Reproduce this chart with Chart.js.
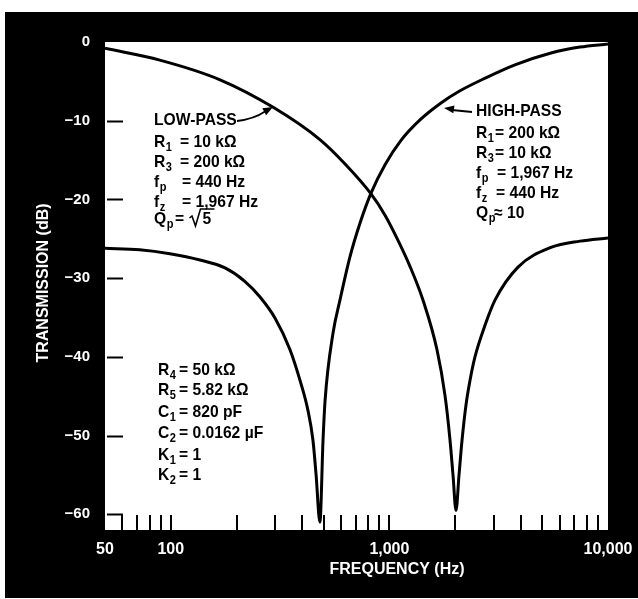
<!DOCTYPE html>
<html>
<head>
<meta charset="utf-8">
<script src="https://cdn.jsdelivr.net/npm/chart.js@4.4.1/dist/chart.umd.min.js"></script>
<style>
html,body{margin:0;padding:0;background:#fff;}
canvas{display:block;}
</style>
</head>
<body>
<canvas id="c" width="638" height="599"></canvas>
<script>
// ---------- DATA ----------
const lowPassFreq = [50, 89, 168, 294, 481, 627, 824, 955, 1095, 1242, 1425, 1651, 1796, 1894, 1954, 2017, 2082, 2149, 2241, 2337, 2463, 2737, 3041, 3876, 5486, 7446, 10000];
const lowPassDb   = [-0.8, -2.3, -4.8, -8.3, -12.4, -15.5, -19.3, -22.0, -25.2, -28.5, -32.8, -39.1, -44.9, -50.6, -55.0, -59.5, -55.0, -50.6, -46.1, -43.0, -40.0, -36.0, -32.8, -28.6, -26.1, -25.3, -24.9];

const highPassFreq = [50, 72, 99, 136, 177, 218, 256, 300, 351, 390, 424, 447, 462, 481, 497, 508, 552, 594, 660, 734, 824, 955, 1130, 1380, 1722, 2104, 2737, 3754, 5486, 7446, 10000];
const highPassDb   = [-26.2, -26.4, -26.9, -27.7, -28.7, -30.4, -32.4, -35.1, -39.1, -43.0, -46.8, -50.6, -55.0, -61.0, -50.6, -45.5, -37.0, -32.8, -27.3, -23.0, -19.2, -15.6, -12.5, -9.9, -7.75, -6.2, -4.6, -2.9, -1.4, -0.64, -0.25];

const xTickValues = [50,60,70,80,90,100,200,300,400,500,600,700,800,900,1000,2000,3000,4000,5000,6000,7000,8000,9000,10000];
const xTickLabels = {50:'50', 100:'100', 1000:'1,000', 10000:'10,000'};
const yTickValues = [0,-10,-20,-30,-40,-50,-60];
const yTickLabels = ['0','−10','−20','−30','−40','−50','−60'];

const xTitle = 'FREQUENCY (Hz)';
const yTitle = 'TRANSMISSION (dB)';

const lowPassNotes  = ['LOW-PASS', 'R_1 = 10 kΩ', 'R_3 = 200 kΩ', 'f_p = 440 Hz', 'f_z = 1,967 Hz', 'Q_p = √5'];
const highPassNotes = ['HIGH-PASS', 'R_1 = 200 kΩ', 'R_3 = 10 kΩ', 'f_p = 1,967 Hz', 'f_z = 440 Hz', 'Q_p ≈ 10'];
const componentNotes = ['R_4 = 50 kΩ', 'R_5 = 5.82 kΩ', 'C_1 = 820 pF', 'C_2 = 0.0162 µF', 'K_1 = 1', 'K_2 = 1'];

// ---------- STYLE / DRAWING ----------
const FAMILY = "'Liberation Sans','DejaVu Sans',sans-serif";
const NOTE_FONT = "bold 17px " + FAMILY;
const SUB_FONT = "bold 12px " + FAMILY;
const SX = 0.92; // horizontal condensing of note text

function toPoints(fs, ds){ return fs.map((f,i)=>({x:f, y:ds[i]})); }

function txt(ctx, s, x, y, font){
  ctx.font = font;
  ctx.save(); ctx.translate(x, y); ctx.scale(SX, 1); ctx.fillText(s, 0, 0); ctx.restore();
  return ctx.measureText(s).width * SX;
}

function drawNote(ctx, x, y, str, valX){
  const m = str.match(/^(\S)_(\S)\s+(.*)$/);
  if(!m){ txt(ctx, str, x, y, NOTE_FONT); return; }
  const w = txt(ctx, m[1], x, y, NOTE_FONT);
  txt(ctx, m[2], x + w + 0.5, y + 4, SUB_FONT);
  const v = m[3];
  const ri = v.indexOf('√');
  if(ri >= 0){
    const before = v.slice(0, ri);
    const after = v.slice(ri + 1);
    let cx = valX + txt(ctx, before, valX, y, NOTE_FONT);
    ctx.save(); ctx.strokeStyle = '#000'; ctx.lineWidth = 1.6;
    ctx.beginPath();
    ctx.moveTo(cx + 1, y - 6); ctx.lineTo(cx + 3.5, y - 8); ctx.lineTo(cx + 7, y + 2); ctx.lineTo(cx + 12, y - 15); ctx.lineTo(cx + 26, y - 15);
    ctx.stroke(); ctx.restore();
    txt(ctx, after, cx + 14, y, NOTE_FONT);
  } else {
    txt(ctx, v, valX, y, NOTE_FONT);
  }
}

function arrowHead(ctx, tx, ty, fromX, fromY, len, half){
  const ang = Math.atan2(ty - fromY, tx - fromX);
  ctx.beginPath();
  ctx.moveTo(tx, ty);
  ctx.lineTo(tx - len*Math.cos(ang) + half*Math.sin(ang), ty - len*Math.sin(ang) - half*Math.cos(ang));
  ctx.lineTo(tx - len*Math.cos(ang) - half*Math.sin(ang), ty - len*Math.sin(ang) + half*Math.cos(ang));
  ctx.closePath(); ctx.fill();
}

const framePlugin = {
  id: 'frame',
  beforeDraw(chart){
    const c = chart.ctx, a = chart.chartArea;
    c.save();
    c.fillStyle = '#fff'; c.fillRect(0, 0, chart.width, chart.height);
    c.fillStyle = '#000'; c.fillRect(5, 12, chart.width - 5, 586);
    c.fillStyle = '#fff'; c.fillRect(a.left, a.top, a.right - a.left, a.bottom - a.top);
    c.restore();
  },
  afterDraw(chart){
    const c = chart.ctx, a = chart.chartArea;
    const xs = chart.scales.x, ys = chart.scales.y;
    c.save();
    c.strokeStyle = '#000'; c.lineWidth = 2;
    yTickValues.forEach(v => {
      if(v === 0) return;
      const py = Math.round(ys.getPixelForValue(v)) + 0.5;
      c.beginPath(); c.moveTo(a.left + 2, py); c.lineTo(a.left + 18, py); c.stroke();
    });
    xTickValues.forEach(v => {
      if(v === 50 || v === 10000) return;
      const px = Math.round(xs.getPixelForValue(v));
      c.beginPath(); c.moveTo(px, a.bottom); c.lineTo(px, a.bottom - 15); c.stroke();
    });
    c.fillStyle = '#fff';
    c.font = "bold 16px " + FAMILY;
    c.textAlign = 'center'; c.textBaseline = 'middle';
    c.fillText(xTitle, 397, 570);
    c.save(); c.translate(44, 283); c.rotate(-Math.PI/2); c.fillText(yTitle, 0, 0); c.restore();
    c.fillStyle = '#000'; c.textAlign = 'left'; c.textBaseline = 'alphabetic';
    const lpY = [125, 147, 167, 187, 207, 224];
    const lpV = [0, 180, 180, 182, 182, 175];
    lowPassNotes.forEach((s,i) => drawNote(c, 154, lpY[i], s, lpV[i]));
    const hpY = [116, 138, 158, 178, 198, 218];
    const hpV = [0, 495, 495, 497, 496, 494];
    highPassNotes.forEach((s,i) => drawNote(c, 476, hpY[i], s, hpV[i]));
    const cY = [375, 395, 417, 438, 460, 480];
    componentNotes.forEach((s,i) => drawNote(c, 158, cY[i], s, 179));
    c.strokeStyle = '#000'; c.fillStyle = '#000'; c.lineWidth = 1.8;
    c.beginPath(); c.moveTo(237, 121); c.quadraticCurveTo(254, 119, 265, 111.5); c.stroke();
    arrowHead(c, 273, 107, 262, 113, 10, 4);
    c.beginPath(); c.moveTo(472, 112); c.lineTo(452, 110); c.stroke();
    arrowHead(c, 444, 108, 472, 112, 10, 4);
    c.restore();
  }
};

new Chart(document.getElementById('c'), {
  type: 'line',
  data: {
    datasets: [
      { label: 'LOW-PASS', data: toPoints(lowPassFreq, lowPassDb), borderColor: '#000', borderWidth: 3, pointRadius: 0, cubicInterpolationMode: 'monotone', fill: false },
      { label: 'HIGH-PASS', data: toPoints(highPassFreq, highPassDb), borderColor: '#000', borderWidth: 3, pointRadius: 0, cubicInterpolationMode: 'monotone', fill: false }
    ]
  },
  options: {
    responsive: false,
    animation: false,
    devicePixelRatio: 1,
    layout: { padding: { top: 42, right: 30, left: 0, bottom: 0 } },
    plugins: { legend: { display: false }, tooltip: { enabled: false } },
    scales: {
      x: {
        type: 'logarithmic', min: 50, max: 10000,
        afterFit(s){ s.height = 69; s.paddingLeft = 0; s.paddingRight = 0; },
        afterBuildTicks(s){ s.ticks = xTickValues.map(v => ({ value: v })); },
        grid: { display: false }, border: { display: false },
        ticks: { autoSkip: false, maxRotation: 0, color: '#fff', padding: 2,
          font: { family: FAMILY, weight: 'bold', size: 16 },
          callback(v){ return xTickLabels[v] || ''; } }
      },
      y: {
        type: 'linear', min: -62, max: 0,
        afterFit(s){ s.width = 105; s.paddingTop = 0; s.paddingBottom = 0; },
        afterBuildTicks(s){ s.ticks = yTickValues.map(v => ({ value: v })); },
        grid: { display: false }, border: { display: false },
        ticks: { color: '#fff', padding: 7,
          font: { family: FAMILY, weight: 'bold', size: 15 },
          callback(v){ const i = yTickValues.indexOf(v); return i >= 0 ? yTickLabels[i] : ''; } }
      }
    }
  },
  plugins: [framePlugin]
});
</script>
</body>
</html>
